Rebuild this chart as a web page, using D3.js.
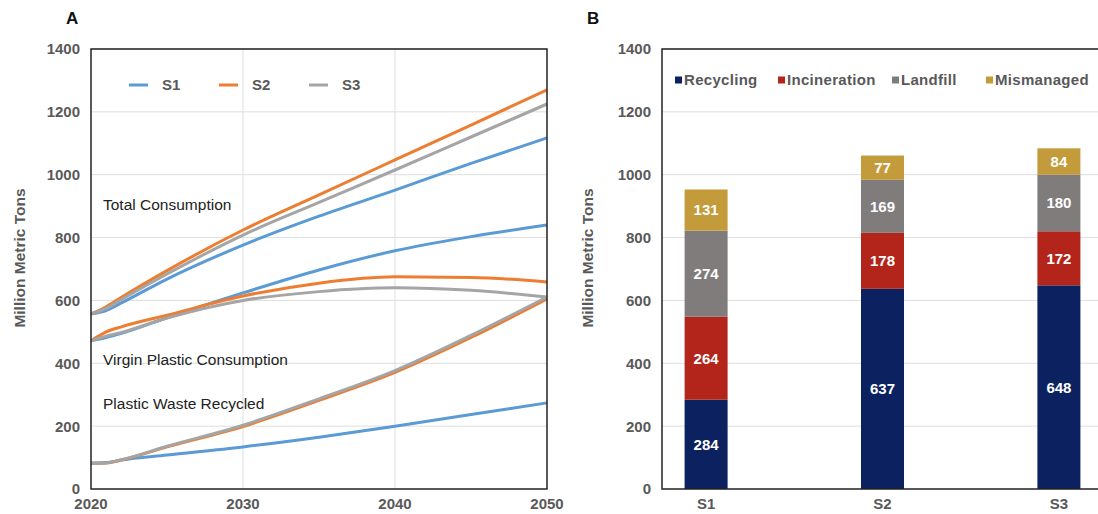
<!DOCTYPE html>
<html lang="en">
<head>
<meta charset="UTF-8" />
<title>Plastic scenarios</title>
<script src="https://d3js.org/d3.v7.min.js"></script>
<style>
  body { margin: 0; background: #fff; }
  svg { display: block; font-family: "Liberation Sans", Arial, Helvetica, sans-serif; }
</style>
</head>
<body>
<script>
// ---- data ----
var years = [2020, 2021, 2022, 2025, 2030, 2035, 2040, 2045, 2050];
var scenarios = ["S1", "S2", "S3"];

var totalS1 = [557, 568, 592, 668, 776, 868, 951, 1036, 1117];
var totalS2 = [557, 580, 610, 695, 824, 936, 1047, 1158, 1270];
var totalS3 = [557, 575, 603, 684, 808, 912, 1015, 1120, 1225];

var virginS1 = [472, 482, 495, 545, 624, 697, 758, 803, 840];
var virginS2 = [472, 500, 516, 553, 614, 655, 675, 673, 659];
var virginS3 = [472, 486, 498, 544, 600, 628, 640, 632, 611];

var recycledS1 = [82, 84, 92, 108, 134, 165, 200, 237, 274];
var recycledS2 = [82, 83, 92, 134, 199, 282, 371, 482, 605];
var recycledS3 = [82, 83, 93, 136, 203, 287, 377, 489, 611];

var xTicks = [2020, 2030, 2040, 2050];
var yTicks = [0, 200, 400, 600, 800, 1000, 1200, 1400];

var fates = ["Recycling", "Incineration", "Landfill", "Mismanaged"];
var recycling = [284, 637, 648];
var incineration = [264, 178, 172];
var landfill = [274, 169, 180];
var mismanaged = [131, 77, 84];

var lineColors = { S1: "#5b9bd5", S2: "#ed7d31", S3: "#a5a5a5" };
var fateColors = { Recycling: "#0b2160", Incineration: "#b3241a", Landfill: "#807c7c", Mismanaged: "#c49b3b" };

var W = 1098, H = 514;
var svg = d3.select("body").append("svg").attr("width", W).attr("height", H);

var tickColor = "#595959";
var gridColor = "#dedede";

function yAxisLabels(g, y, x0) {
  g.selectAll(".ytick").data(yTicks).enter().append("text")
    .attr("x", x0 - 11)
    .attr("y", function (d) { return y(d); })
    .attr("dy", "0.36em")
    .attr("text-anchor", "end")
    .attr("font-size", "15px")
    .attr("font-weight", "bold")
    .attr("fill", tickColor)
    .text(function (d) { return d; });
}

function yTitle(cx, cy) {
  svg.append("text")
    .attr("transform", "translate(" + cx + "," + cy + ") rotate(-90)")
    .attr("text-anchor", "middle")
    .attr("dy", "0.36em")
    .attr("font-size", "15.5px")
    .attr("font-weight", "bold")
    .attr("fill", tickColor)
    .text("Million Metric Tons");
}

// ================= Panel A =================
var aL = 91, aR = 547, plotTop = 49, plotBottom = 489;
var xA = d3.scaleLinear().domain([2020, 2050]).range([aL, aR]);
var yA = d3.scaleLinear().domain([0, 1400]).range([plotBottom, plotTop]);

var gA = svg.append("g");
gA.selectAll(".hg").data(yTicks.slice(1)).enter().append("line")
  .attr("x1", aL).attr("x2", aR)
  .attr("y1", function (d) { return yA(d); }).attr("y2", function (d) { return yA(d); })
  .attr("stroke", gridColor).attr("stroke-width", 1);
gA.selectAll(".vg").data([2030, 2040]).enter().append("line")
  .attr("x1", function (d) { return xA(d); }).attr("x2", function (d) { return xA(d); })
  .attr("y1", plotTop).attr("y2", plotBottom)
  .attr("stroke", gridColor).attr("stroke-width", 1);

var line = d3.line()
  .x(function (d) { return xA(d[0]); })
  .y(function (d) { return yA(d[1]); })
  .curve(d3.curveMonotoneX);

var seriesA = [
  { s: "S1", v: recycledS1 }, { s: "S2", v: recycledS2 }, { s: "S3", v: recycledS3 },
  { s: "S1", v: virginS1 }, { s: "S2", v: virginS2 }, { s: "S3", v: virginS3 },
  { s: "S1", v: totalS1 }, { s: "S2", v: totalS2 }, { s: "S3", v: totalS3 }
];
gA.selectAll(".series").data(seriesA).enter().append("path")
  .attr("d", function (d) { return line(years.map(function (yr, i) { return [yr, d.v[i]]; })); })
  .attr("fill", "none")
  .attr("stroke", function (d) { return lineColors[d.s]; })
  .attr("stroke-width", 3);

gA.append("rect").attr("x", aL).attr("y", plotTop).attr("width", aR - aL).attr("height", plotBottom - plotTop)
  .attr("fill", "none").attr("stroke", "#222").attr("stroke-width", 1.5);

yAxisLabels(gA, yA, aL);
gA.selectAll(".xtick").data(xTicks).enter().append("text")
  .attr("x", function (d) { return xA(d); })
  .attr("y", 504)
  .attr("dy", "0.36em")
  .attr("text-anchor", "middle")
  .attr("font-size", "15px")
  .attr("font-weight", "bold")
  .attr("fill", tickColor)
  .text(function (d) { return d; });

yTitle(19, 258);

// legend A
var legA = gA.selectAll(".legA").data(scenarios).enter().append("g")
  .attr("transform", function (d, i) { return "translate(" + (129 + i * 90) + ",85)"; });
legA.append("line").attr("x1", 0).attr("x2", 19).attr("y1", 0).attr("y2", 0)
  .attr("stroke", function (d) { return lineColors[d]; }).attr("stroke-width", 3);
legA.append("text").attr("x", 33).attr("dy", "0.36em")
  .attr("font-size", "15px").attr("font-weight", "bold").attr("fill", tickColor)
  .text(function (d) { return d; });

var notes = [
  { t: "Total Consumption", y: 204 },
  { t: "Virgin Plastic Consumption", y: 359 },
  { t: "Plastic Waste Recycled", y: 403 }
];
gA.selectAll(".note").data(notes).enter().append("text")
  .attr("x", 103).attr("y", function (d) { return d.y; }).attr("dy", "0.36em")
  .attr("font-size", "15.5px").attr("fill", "#222")
  .text(function (d) { return d.t; });

svg.append("text").attr("x", 66).attr("y", 24).attr("font-size", "17px")
  .attr("font-weight", "bold").attr("fill", "#111").text("A");

// ================= Panel B =================
var bL = 662, bR = 1103;
var xB = d3.scalePoint().domain(scenarios).range([bL, bR]).padding(0.25);
var yB = d3.scaleLinear().domain([0, 1400]).range([plotBottom, plotTop]);
var barW = 43;

var gB = svg.append("g");
gB.selectAll(".hg").data(yTicks.slice(1)).enter().append("line")
  .attr("x1", bL).attr("x2", bR)
  .attr("y1", function (d) { return yB(d); }).attr("y2", function (d) { return yB(d); })
  .attr("stroke", gridColor).attr("stroke-width", 1);

var table = scenarios.map(function (s, i) {
  return { s: s, Recycling: recycling[i], Incineration: incineration[i], Landfill: landfill[i], Mismanaged: mismanaged[i] };
});
var stacked = d3.stack().keys(fates)(table);

var layers = gB.selectAll(".layer").data(stacked).enter().append("g")
  .attr("fill", function (d) { return fateColors[d.key]; });
layers.selectAll("rect").data(function (d) { return d; }).enter().append("rect")
  .attr("x", function (d) { return xB(d.data.s) - barW / 2; })
  .attr("y", function (d) { return yB(d[1]); })
  .attr("width", barW)
  .attr("height", function (d) { return yB(d[0]) - yB(d[1]); });
layers.selectAll("text").data(function (d) { return d; }).enter().append("text")
  .attr("x", function (d) { return xB(d.data.s); })
  .attr("y", function (d) { return (yB(d[0]) + yB(d[1])) / 2; })
  .attr("dy", "0.36em")
  .attr("text-anchor", "middle")
  .attr("font-size", "15px")
  .attr("font-weight", "bold")
  .attr("fill", "#fff")
  .text(function (d) { return d[1] - d[0]; });

gB.append("path")
  .attr("d", "M" + bR + "," + plotTop + "H" + bL + "V" + plotBottom + "H" + bR)
  .attr("fill", "none").attr("stroke", "#222").attr("stroke-width", 1.5);

yAxisLabels(gB, yB, bL);
gB.selectAll(".xtick").data(scenarios).enter().append("text")
  .attr("x", function (d) { return xB(d); })
  .attr("y", 504)
  .attr("dy", "0.36em")
  .attr("text-anchor", "middle")
  .attr("font-size", "15px")
  .attr("font-weight", "bold")
  .attr("fill", tickColor)
  .text(function (d) { return d; });

yTitle(587, 258);

var legBx = [675, 778, 892, 986];
var legB = gB.selectAll(".legB").data(fates).enter().append("g")
  .attr("transform", function (d, i) { return "translate(" + legBx[i] + ",80)"; });
legB.append("rect").attr("x", 0).attr("y", -3.5).attr("width", 7).attr("height", 7)
  .attr("fill", function (d) { return fateColors[d]; });
legB.append("text").attr("x", 9).attr("dy", "0.36em")
  .attr("font-size", "15px").attr("font-weight", "bold").attr("fill", tickColor)
  .attr("letter-spacing", "0.3px")
  .text(function (d) { return d; });

svg.append("text").attr("x", 587).attr("y", 24).attr("font-size", "17px")
  .attr("font-weight", "bold").attr("fill", "#111").text("B");
</script>
</body>
</html>
